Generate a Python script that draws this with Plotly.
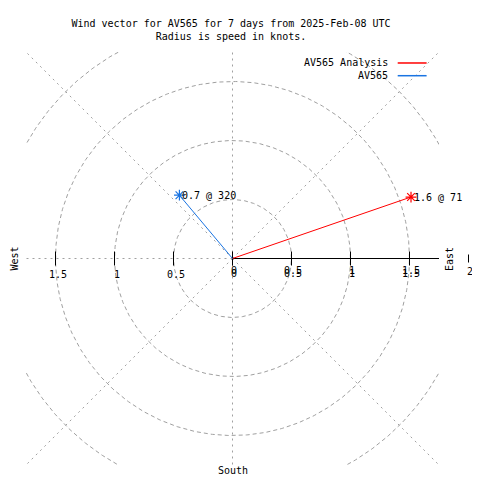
import numpy as np
import plotly.graph_objects as go

# ---- data ----
series_names = ["AV565 Analysis", "AV565"]
speeds_kt = [1.6, 0.7]
directions_deg = [71, 320]
series_colors = ["#ff0000", "#1a74e2"]

grid_radii = [0.5, 1.0, 1.5, 2.0]
radial_angles = [45, 90, 135, 180, 225, 270, 315]
tick_vals = [0, 0.5, 1, 1.5, 2]
tick_labels = ["0", "0.5", "1", "1.5", "2"]
title_lines = ["Wind vector for AV565 for 7 days from 2025-Feb-08 UTC",
               "Radius is speed in knots."]

FONT = dict(family="DejaVu Sans Mono", size=10, color="black")
GRID = "#a0a0a0"
LIM = 1.75
W = H = 472  # page body has an 8px margin
PLOT_PX = 413


def xpaper(v):
    return (v + LIM) / (2 * LIM)


fig = go.Figure()

# grid circles
t = np.linspace(0, 2 * np.pi, 721)
for r in grid_radii:
    fig.add_trace(go.Scatter(x=r * np.cos(t), y=r * np.sin(t), mode="lines",
                             line=dict(color=GRID, width=1, dash="4px,3px"),
                             hoverinfo="skip", showlegend=False))
# radial grid lines
for a in radial_angles:
    ar = np.radians(a)
    fig.add_trace(go.Scatter(x=[0, 2.6 * np.cos(ar)], y=[0, 2.6 * np.sin(ar)], mode="lines",
                             line=dict(color=GRID, width=1, dash="2px,4px"),
                             hoverinfo="skip", showlegend=False))
# east axis (solid black)
fig.add_trace(go.Scatter(x=[0, 2.6], y=[0, 0], mode="lines",
                         line=dict(color="black", width=1),
                         hoverinfo="skip", showlegend=False))
# tick marks (inside range)
tx = [v for v in tick_vals if v <= LIM] + [-v for v in tick_vals if 0 < v <= LIM]
fig.add_trace(go.Scatter(x=tx, y=[0] * len(tx), mode="markers", cliponaxis=False,
                         marker=dict(symbol="line-ns-open", size=10, color="black",
                                     line=dict(color="black", width=1)),
                         hoverinfo="skip", showlegend=False))

# wind vectors
for name, s, d, c in zip(series_names, speeds_kt, directions_deg, series_colors):
    dr = np.radians(d)
    ex, ey = s * np.sin(dr), s * np.cos(dr)
    fig.add_trace(go.Scatter(x=[0, ex], y=[0, ey], mode="lines",
                             line=dict(color=c, width=1), name=name, showlegend=False))
    fig.add_trace(go.Scatter(x=[ex], y=[ey], mode="markers",
                             marker=dict(symbol="asterisk-open", size=9, color=c,
                                         line=dict(color=c, width=1.2)),
                             showlegend=False, name=name))
    fig.add_annotation(x=ex, y=ey, text=f"{s:g} @ {d}", showarrow=False,
                       xanchor="left", yanchor="middle", xshift=1, font=FONT)

# tick labels
for v, lab in zip(tick_vals, tick_labels):
    if v <= LIM:
        fig.add_annotation(x=v, y=0, text=lab, showarrow=False, xanchor="center",
                           yanchor="middle", yshift=-15, xshift=1, font=FONT)
        fig.add_annotation(x=v, y=0, text=lab, showarrow=False, xanchor="center",
                           yanchor="middle", yshift=-12, xshift=1, font=FONT)
        if v > 0:
            fig.add_annotation(x=-v, y=0, text=lab, showarrow=False, xanchor="center",
                               yanchor="middle", yshift=-16, xshift=2, font=FONT)
    else:
        # tick beyond the plot box (drawn in paper coordinates)
        fig.add_annotation(xref="paper", yref="paper", x=xpaper(v), y=0.5, text=lab,
                           showarrow=False, xanchor="center", yanchor="middle",
                           yshift=-13, xshift=1, font=FONT)
        fig.add_shape(type="line", xref="paper", yref="paper",
                      x0=xpaper(v), x1=xpaper(v),
                      y0=0.5 - 4 / PLOT_PX, y1=0.5 + 4 / PLOT_PX,
                      line=dict(color="black", width=1))

# compass labels
fig.add_annotation(xref="paper", yref="paper", x=1.0254, y=0.5, text="East",
                   textangle=-90, showarrow=False, xanchor="center", yanchor="middle", font=FONT)
fig.add_annotation(xref="paper", yref="paper", x=-0.029, y=0.5, text="West",
                   textangle=-90, showarrow=False, xanchor="center", yanchor="middle", font=FONT)
fig.add_annotation(xref="paper", yref="paper", x=0.5, y=-0.0145, text="South",
                   showarrow=False, xanchor="center", yanchor="middle", font=FONT)

# legend (custom, gnuplot style)
leg_y = [0.9734, 0.9426]
for name, c, ly in zip(series_names, series_colors, leg_y):
    fig.add_annotation(xref="paper", yref="paper", x=0.8814, y=ly, text=name,
                       showarrow=False, xanchor="right", yanchor="middle", font=FONT)
    fig.add_shape(type="line", xref="paper", yref="paper", x0=0.9000, x1=0.9700,
                  y0=ly, y1=ly, line=dict(color=c, width=1.5))

fig.update_layout(
    width=W, height=H,
    margin=dict(l=18, r=41, t=44, b=15),
    paper_bgcolor="white", plot_bgcolor="white",
    title=dict(text="<br>".join(title_lines), x=223 / W, xanchor="center",
               y=1 - 18.5 / H, yanchor="middle", xref="container", yref="container",
               font=FONT),
    xaxis=dict(range=[-LIM, LIM], showgrid=False, zeroline=False, showticklabels=False,
               showline=False, ticks="", fixedrange=True),
    yaxis=dict(range=[-LIM, LIM], showgrid=False, zeroline=False, showticklabels=False,
               showline=False, ticks="", fixedrange=True),
    showlegend=False,
)

fig.write_html("out.html")
